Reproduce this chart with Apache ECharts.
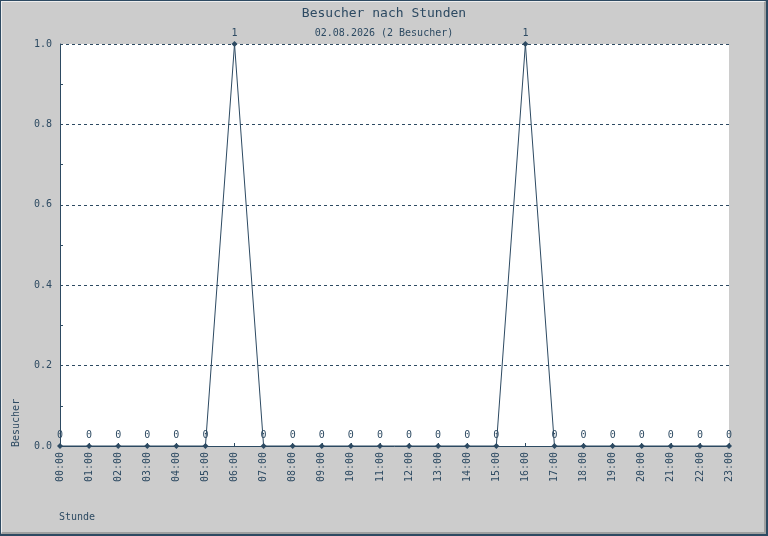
<!DOCTYPE html>
<html>
<head>
<meta charset="utf-8">
<script src="https://cdn.jsdelivr.net/npm/echarts@6/dist/echarts.min.js"></script>
<style>
  html, body { margin: 0; padding: 0; background: #cccccc; }
  #frame { position: absolute; left: 0; top: 0; width: 768px; height: 536px; box-sizing: border-box;
           border: 1px solid #2d4a62; border-right-width: 2px; border-bottom-width: 2px; }
  #inner { position: absolute; left: 0; top: 0; right: 0; bottom: 0; box-sizing: border-box;
           border-top: 1px solid #eeeeee; border-left: 1px solid #eeeeee;
           border-right: 2px solid #a0a0a0; border-bottom: 2px solid #a0a0a0; }
  #chart { position: absolute; left: 0; top: 0; width: 768px; height: 536px; }
</style>
</head>
<body>
<div id="chart"></div>
<div id="frame"><div id="inner"></div></div>
<script>
const titleText = 'Besucher nach Stunden';
const subtitleText = '02.08.2026 (2 Besucher)';
const hours = ['00:00','01:00','02:00','03:00','04:00','05:00','06:00','07:00','08:00','09:00','10:00','11:00',
               '12:00','13:00','14:00','15:00','16:00','17:00','18:00','19:00','20:00','21:00','22:00','23:00'];
const visitors = [0,0,0,0,0,0,1,0,0,0,0,0,0,0,0,0,1,0,0,0,0,0,0,0];
const yAxisName = 'Besucher';
const xAxisName = 'Stunde';

const ink = '#2d4a62';
const mono = '"DejaVu Sans Mono", monospace';

const chart = echarts.init(document.getElementById('chart'), null, { renderer: 'canvas' });
chart.setOption({
  backgroundColor: '#cccccc',
  animation: false,
  title: {
    text: titleText,
    subtext: subtitleText,
    left: 'center',
    top: 2,
    itemGap: 8,
    textStyle: { fontFamily: mono, fontSize: 13, fontWeight: 'normal', color: ink },
    subtextStyle: { fontFamily: mono, fontSize: 10, color: ink }
  },
  grid: {
    left: 60, right: 39, top: 44, bottom: 90,
    show: true, backgroundColor: '#ffffff', borderWidth: 0
  },
  xAxis: {
    type: 'category',
    data: hours,
    boundaryGap: false,
    axisLine: { lineStyle: { color: ink, width: 1 } },
    axisTick: { show: true, inside: true, length: 3, lineStyle: { color: ink } },
    axisLabel: { rotate: 90, margin: 6, fontFamily: mono, fontSize: 10, color: ink, interval: 0 },
    splitLine: { show: false }
  },
  yAxis: {
    type: 'value',
    min: 0, max: 1, interval: 0.2,
    axisLine: { show: true, lineStyle: { color: ink, width: 1 } },
    axisTick: { show: false, inside: true, length: 3 },
    minorTick: { show: true, splitNumber: 2, length: 3, lineStyle: { color: ink } },
    axisLabel: { margin: 8, fontFamily: mono, fontSize: 10, color: ink,
                 formatter: v => v.toFixed(1) },
    splitLine: { show: true, lineStyle: { color: ink, width: 1, type: [3, 3] } }
  },
  graphic: [
    { type: 'text', x: 16, y: 447, rotation: Math.PI / 2,
      style: { text: yAxisName, fill: ink, font: '10px "DejaVu Sans Mono", monospace',
               textAlign: 'left', textVerticalAlign: 'middle' } },
    { type: 'text', x: 59, y: 517,
      style: { text: xAxisName, fill: ink, font: '10px "DejaVu Sans Mono", monospace',
               textAlign: 'left', textVerticalAlign: 'middle' } }
  ],
  series: [{
    type: 'line',
    data: visitors,
    symbol: 'diamond',
    symbolSize: 6,
    showAllSymbol: true,
    itemStyle: { color: ink },
    lineStyle: { color: ink, width: 1 },
    label: { show: true, position: 'top', distance: 3, fontFamily: mono, fontSize: 10, color: ink }
  }]
});
</script>
</body>
</html>
